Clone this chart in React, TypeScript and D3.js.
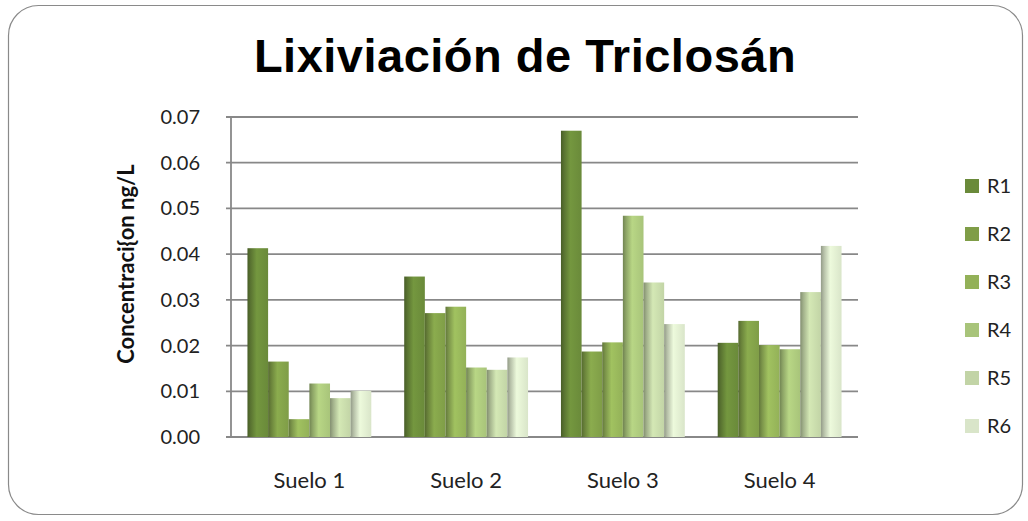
import React from "react";
import * as d3 from "d3";

const categories = ["Suelo 1", "Suelo 2", "Suelo 3", "Suelo 4"];
const seriesNames = ["R1", "R2", "R3", "R4", "R5", "R6"];
const R1 = [0.0413, 0.0351, 0.067, 0.0206];
const R2 = [0.0165, 0.0271, 0.0187, 0.0254];
const R3 = [0.0039, 0.0285, 0.0207, 0.0201];
const R4 = [0.0117, 0.0152, 0.0484, 0.0192];
const R5 = [0.0085, 0.0147, 0.0338, 0.0317];
const R6 = [0.0101, 0.0174, 0.0247, 0.0418];
const seriesValues = [R1, R2, R3, R4, R5, R6];
const yTicks = [0, 0.01, 0.02, 0.03, 0.04, 0.05, 0.06, 0.07];
const colors = ["#6a8a3a", "#7f9d47", "#93b158", "#a8c47a", "#c2d4a6", "#d9e5c9"];

export default function App() {
  const W = 1028, H = 521;
  const left = 231, right = 858, top = 117, bottom = 437;
  const x0 = d3.scaleBand<string>().domain(categories).range([left, right]).paddingInner(0.21).paddingOuter(0.105);
  const x1 = d3.scaleBand<string>().domain(seriesNames).range([0, x0.bandwidth()]);
  const y = d3.scaleLinear().domain([0, 0.07]).range([bottom, top]);
  const font = "Lato, 'Open Sans', sans-serif";

  return (
    <svg width={W} height={H} style={{ position: "absolute", left: 0, top: 0, background: "#fff" }}>
      <defs>
        {colors.map((c, i) => {
          const base = d3.color(c)!;
          return (
            <linearGradient key={i} id={`g${i}`} x1="0" x2="1" y1="0" y2="0">
              <stop offset="0%" stopColor={base.darker(1.1).formatHex()} />
              <stop offset="15%" stopColor={base.darker(0.5).formatHex()} />
              <stop offset="45%" stopColor={base.brighter(0.25).formatHex()} />
              <stop offset="100%" stopColor={base.formatHex()} />
            </linearGradient>
          );
        })}
      </defs>
      <rect x={8.5} y={5.5} width={1014} height={509} rx={30} ry={30} fill="#fff" stroke="#8a8a8a" strokeWidth={1.2} />
      <text x={525} y={72} textAnchor="middle" fontFamily="'Liberation Sans', Arial, sans-serif" fontWeight="bold" fontSize={47} fill="#000" letterSpacing={0.5}>
        Lixiviación de Triclosán
      </text>
      {yTicks.map((t) => (
        <g key={t}>
          <line x1={left - 5} x2={right} y1={y(t)} y2={y(t)} stroke="#888" strokeWidth={1.8} />
          <text x={200} y={y(t)} dy="0.35em" textAnchor="end" fontFamily={font} fontSize={20} fill="#222">
            {t.toFixed(2)}
          </text>
        </g>
      ))}
      <line x1={left} x2={left} y1={top} y2={bottom} stroke="#888" strokeWidth={1.8} />
      {categories.map((cat, ci) => (
        <g key={cat}>
          {seriesValues.map((vals, si) => {
            const v = vals[ci];
            return (
              <rect
                key={si}
                x={x0(cat)! + x1(seriesNames[si])!}
                y={y(v)}
                width={x1.bandwidth()}
                height={y(0) - y(v)}
                fill={`url(#g${si})`}
              />
            );
          })}
          <text x={x0(cat)! + x0.bandwidth() / 2} y={480} dy="0.35em" textAnchor="middle" fontFamily={font} fontSize={22} fill="#222">
            {cat}
          </text>
        </g>
      ))}
      <text
        transform={`translate(126,264) rotate(-90)`}
        textAnchor="middle"
        dy="0.35em"
        fontFamily={font}
        fontWeight="bold"
        fontSize={22}
        fill="#111"
      >
        Concentraci{"{"}on ng/L
      </text>
      {seriesNames.map((s, i) => (
        <g key={s} transform={`translate(965,${186 + i * 48})`}>
          <rect x={0} y={-7} width={14} height={14} fill={colors[i]} />
          <text x={22} y={0} dy="0.35em" fontFamily={font} fontSize={20} fill="#222">
            {s}
          </text>
        </g>
      ))}
    </svg>
  );
}
